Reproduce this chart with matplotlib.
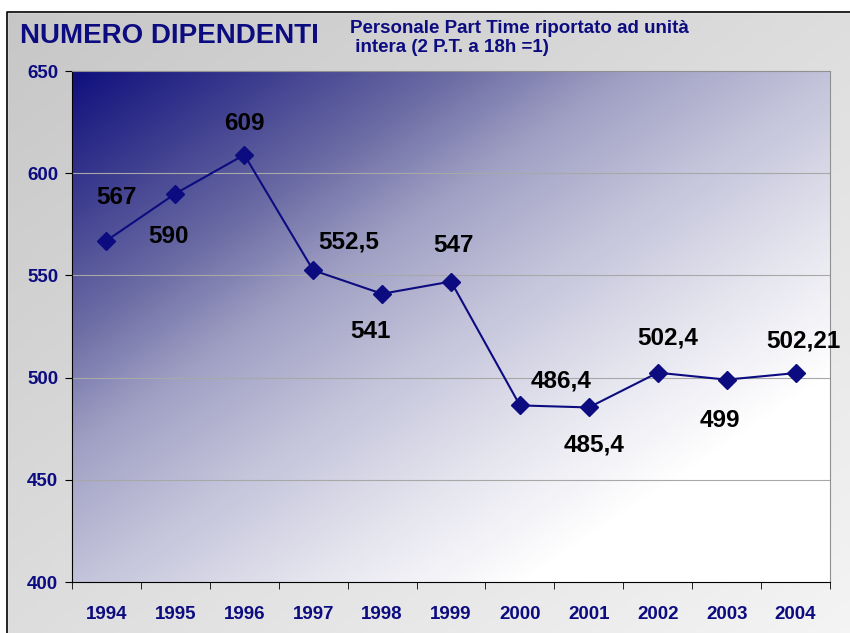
import numpy as np
import matplotlib.pyplot as plt
from matplotlib.colors import LinearSegmentedColormap
from matplotlib.patches import Rectangle

plt.rcParams['font.family'] = ['Liberation Sans', 'DejaVu Sans']

# Data
years = ['1994', '1995', '1996', '1997', '1998', '1999', '2000', '2001', '2002', '2003', '2004']
values = [567, 590, 609, 552.5, 541, 547, 486.4, 485.4, 502.4, 499, 502.21]
labels = ['567', '590', '609', '552,5', '541', '547', '486,4', '485,4', '502,4', '499', '502,21']
# label offsets in pixels (dx, dy)
offsets = [(10, 43), (-7, -43), (0, 31), (36, 28), (-12, -38), (3, 36),
           (41, 24), (5, -38), (10, 35), (-7, -41), (8, 32)]

navy = '#0c0c80'

fig = plt.figure(figsize=(8.5, 6.33), dpi=100)

# figure background: light grey gradient inside a framed box
bg = fig.add_axes([0, 0, 1, 1], zorder=-10)
gx, gy = np.meshgrid(np.linspace(0, 1, 200), np.linspace(0, 1, 200))
t = np.clip((gx + gy) / 2, 0, 1)
bg_cmap = LinearSegmentedColormap.from_list('bgc', ['#c6c6c6', '#f4f4f4'])
bg.imshow(t, cmap=bg_cmap, extent=[0, 1, 0, 1], origin='upper', aspect='auto', vmin=0, vmax=1)
bg.set_xlim(0, 1)
bg.set_ylim(0, 1)
bg.axis('off')
bg.add_patch(Rectangle((0, 1 - 12 / 633), 1, 12 / 633, color='white', transform=bg.transAxes))
bg.add_patch(Rectangle((0, 0), 7 / 850, 1, color='white', transform=bg.transAxes))
bg.plot([7 / 850, 7 / 850, 1], [0, 1 - 12 / 633, 1 - 12 / 633], color='black', linewidth=1.2,
        transform=bg.transAxes)

# plot area
left, right, top, bottom = 72 / 850, 830 / 850, 71 / 633, 582 / 633
ax = fig.add_axes([left, 1 - bottom, right - left, bottom - top])

x = np.arange(len(years))
ax.set_xlim(-0.5, len(years) - 0.5)
ax.set_ylim(400, 650)

px, py = np.meshgrid(np.linspace(0, 1, 400), np.linspace(0, 1, 400))
tt = np.clip((px + py) / 2, 0, 1)
area_cmap = LinearSegmentedColormap.from_list(
    'area', [(0.0, '#10107e'), (0.12, '#3a3a8e'), (0.25, '#6a6aa4'), (0.37, '#a0a0c4'),
             (0.5, '#c2c2da'), (0.65, '#e4e4ee'), (0.8, '#ffffff'), (1.0, '#ffffff')])
ax.imshow(tt, cmap=area_cmap, extent=[-0.5, len(years) - 0.5, 400, 650], origin='upper',
          aspect='auto', vmin=0, vmax=1, zorder=0)

ax.set_yticks([400, 450, 500, 550, 600, 650])
for yv in [450, 500, 550, 600]:
    ax.axhline(yv, color='#a8a8a8', linewidth=0.8, zorder=1)

ax.plot(x, values, color=navy, linewidth=1.5, marker='D', markersize=9, zorder=3)

for xi, v, lab, (dx, dy) in zip(x, values, labels, offsets):
    ax.annotate(lab, (xi, v), xytext=(dx, dy), textcoords='offset pixels',
                ha='center', va='center', fontsize=17.5, fontweight='bold', color='black', zorder=4)

ax.set_xticks(x)
ax.set_xticklabels(years)
ax.set_xticks(np.arange(-0.5, len(years)), minor=True)
ax.tick_params(axis='x', which='major', length=0, pad=17, labelsize=13.5, labelcolor=navy)
ax.tick_params(axis='x', which='minor', length=5, direction='out', color='black')
ax.tick_params(axis='y', length=5, direction='out', labelsize=13.5, labelcolor=navy, pad=5)
for lab in ax.get_xticklabels() + ax.get_yticklabels():
    lab.set_fontweight('bold')

ax.spines['top'].set_color('#909090')
ax.spines['right'].set_color('#909090')
ax.spines['left'].set_color('black')
ax.spines['bottom'].set_color('black')

fig.text(20 / 850, 1 - 36 / 633, 'NUMERO DIPENDENTI', fontsize=20, fontweight='bold',
         color=navy, ha='left', va='center')
fig.text(350 / 850, 1 - 38 / 633, 'Personale Part Time riportato ad unità\n intera (2 P.T. a 18h =1)',
         fontsize=13.5, fontweight='bold', color=navy, ha='left', va='center', linespacing=1.15)

fig.savefig('out.png', dpi=100)
